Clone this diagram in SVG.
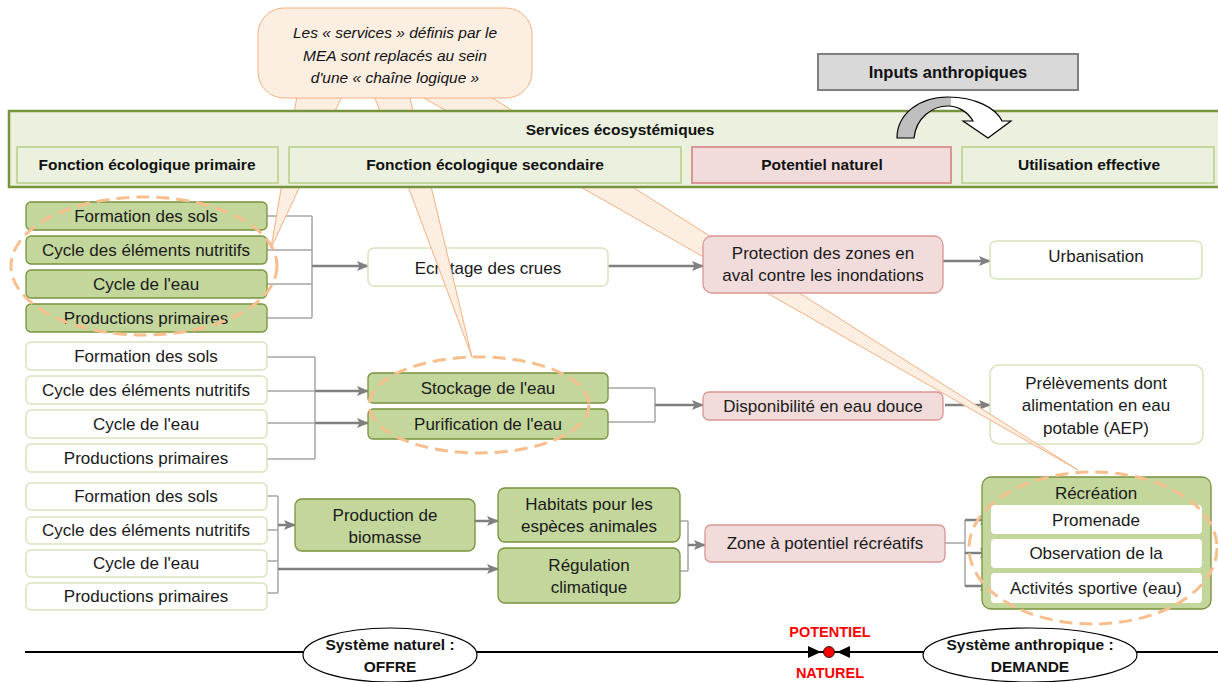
<svg xmlns="http://www.w3.org/2000/svg" width="1218" height="682" viewBox="0 0 1218 682">
<defs>
<style>
.t{font-family:"Liberation Sans",Arial,sans-serif;font-size:17px;fill:#1a1a1a;text-anchor:middle}
.b{font-family:"Liberation Sans",Arial,sans-serif;font-weight:bold;font-size:15.5px;fill:#111;text-anchor:middle}
.it{font-family:"Liberation Sans",Arial,sans-serif;font-style:italic;font-size:15.5px;fill:#111;text-anchor:middle}
.red{font-family:"Liberation Sans",Arial,sans-serif;font-weight:bold;font-size:14.5px;fill:#ff0000;text-anchor:middle}
.gb{fill:#c3d69b;stroke:#77933c;stroke-width:1.3}
.wb{fill:#ffffff;stroke:#d7e4bd;stroke-width:1.5}
.pb{fill:#f2dcdb;stroke:#d99694;stroke-width:1.3}
.hb{fill:#ebf1de;stroke:#c3d69b;stroke-width:2}
.thin{fill:none;stroke:#a6a6a6;stroke-width:1.5}
.arr{fill:none;stroke:#808080;stroke-width:2.5;marker-end:url(#ah)}
.dash{fill:none;stroke:#f8bf8e;stroke-width:3;stroke-dasharray:13 7}
.wedge{fill:#fdeee2;stroke:#f4b183;stroke-width:1}
</style>
<marker id="ah" markerUnits="userSpaceOnUse" markerWidth="12" markerHeight="10" refX="11" refY="5" orient="auto"><path d="M0,0 L12,5 L0,10 L2.5,5 Z" fill="#808080"/></marker>
<clipPath id="leftHalf"><rect x="880" y="90" width="71" height="60"/></clipPath>
</defs>
<rect width="1218" height="682" fill="#ffffff"/>

<g id="connectors">
<path class="thin" d="M267 216 H312 M267 250 H312 M267 284 H312 M267 318 H312 M312 216 V318"/>
<path class="arr" d="M312 266 H368"/>
<path class="arr" d="M608 266 H703"/>
<path class="arr" d="M943 261 H990"/>
<path class="thin" d="M267 357 H315 M267 391 H315 M267 423 H315 M267 459 H315 M315 357 V459"/>
<path class="arr" d="M315 391 H368"/>
<path class="arr" d="M315 423 H368"/>
<path class="thin" d="M608 388 H655 M608 422 H655 M655 388 V422"/>
<path class="arr" d="M655 405 H703"/>
<path class="arr" d="M945 405 H990"/>
<path class="thin" d="M267 496 H278 M267 530 H278 M267 561 H278 M267 593 H278 M278 496 V593"/>
<path class="arr" d="M278 525 H295"/>
<path class="arr" d="M278 569 H498"/>
<path class="arr" d="M475 521 H498"/>
<path class="thin" d="M680 521 H688 M680 571 H688 M688 521 V571"/>
<path class="arr" d="M688 545 H705"/>
<path class="thin" d="M945 543 H965 M965 520 V586"/>
<path class="arr" d="M965 520 H991"/>
<path class="arr" d="M965 553 H991"/>
<path class="arr" d="M965 586 H991"/>
</g>

<g id="fp1">
<rect class="gb" x="26" y="202" width="241" height="28" rx="5"/><text class="t" x="146" y="222">Formation des sols</text>
<rect class="gb" x="26" y="236" width="241" height="28" rx="5"/><text class="t" x="146" y="256">Cycle des éléments nutritifs</text>
<rect class="gb" x="26" y="270" width="241" height="28" rx="5"/><text class="t" x="146" y="290">Cycle de l'eau</text>
<rect class="gb" x="26" y="304" width="241" height="28" rx="5"/><text class="t" x="146" y="324">Productions primaires</text>
</g>
<g id="fp2">
<rect class="wb" x="26" y="342" width="241" height="28" rx="5"/><text class="t" x="146" y="362">Formation des sols</text>
<rect class="wb" x="26" y="376" width="241" height="28" rx="5"/><text class="t" x="146" y="396">Cycle des éléments nutritifs</text>
<rect class="wb" x="26" y="410" width="241" height="28" rx="5"/><text class="t" x="146" y="430">Cycle de l'eau</text>
<rect class="wb" x="26" y="444" width="241" height="28" rx="5"/><text class="t" x="146" y="464">Productions primaires</text>
</g>
<g id="fp3">
<rect class="wb" x="26" y="483" width="241" height="27" rx="5"/><text class="t" x="146" y="502">Formation des sols</text>
<rect class="wb" x="26" y="517" width="241" height="27" rx="5"/><text class="t" x="146" y="536">Cycle des éléments nutritifs</text>
<rect class="wb" x="26" y="550" width="241" height="27" rx="5"/><text class="t" x="146" y="569">Cycle de l'eau</text>
<rect class="wb" x="26" y="583" width="241" height="27" rx="5"/><text class="t" x="146" y="602">Productions primaires</text>
</g>

<g id="ecretage"><rect class="wb" x="368" y="248" width="240" height="38" rx="6"/><text class="t" x="488" y="274">Ecrêtage des crues</text></g>
<g id="stockage"><rect class="gb" x="368" y="373" width="240" height="30" rx="5"/><text class="t" x="488" y="394">Stockage de l'eau</text></g>
<g id="purification"><rect class="gb" x="368" y="409" width="240" height="30" rx="5"/><text class="t" x="488" y="430">Purification de l'eau</text></g>
<g id="biomasse"><rect class="gb" x="295" y="499" width="180" height="52" rx="7"/><text class="t" x="385" y="521">Production de</text><text class="t" x="385" y="543">biomasse</text></g>
<g id="habitats"><rect class="gb" x="498" y="488" width="182" height="54" rx="7"/><text class="t" x="589" y="510">Habitats pour les</text><text class="t" x="589" y="532">espèces animales</text></g>
<g id="regulation"><rect class="gb" x="498" y="548" width="182" height="55" rx="7"/><text class="t" x="589" y="571">Régulation</text><text class="t" x="589" y="593">climatique</text></g>
<g id="urbanisation"><rect class="wb" x="990" y="241" width="212" height="38" rx="6"/><text class="t" x="1096" y="262">Urbanisation</text></g>
<g id="prelevements"><rect class="wb" x="990" y="365" width="213" height="79" rx="9"/><text class="t" x="1096" y="389">Prélèvements dont</text><text class="t" x="1096" y="411">alimentation en eau</text><text class="t" x="1096" y="434">potable (AEP)</text></g>
<g id="zone"><rect class="pb" x="705" y="525" width="240" height="37" rx="6"/><text class="t" x="825" y="549">Zone à potentiel récréatifs</text></g>
<g id="recreation">
<rect class="gb" x="982" y="477" width="229" height="132" rx="9"/>
<text class="t" x="1096" y="499">Récréation</text>
<rect x="991" y="505" width="211" height="29" rx="4" fill="#fff"/><text class="t" x="1096" y="526">Promenade</text>
<rect x="991" y="539" width="211" height="29" rx="4" fill="#fff"/><text class="t" x="1096" y="559">Observation de la</text>
<rect x="991" y="573" width="211" height="30" rx="4" fill="#fff"/><text class="t" x="1096" y="594">Activités sportive (eau)</text>
</g>

<g id="callout">
<polygon class="wedge" points="298,90 345,90 271,248"/>
<polygon class="wedge" points="372,90 408,90 472,357"/>
<polygon class="wedge" points="410,90 480,90 1078,470"/>
<rect x="258" y="8" width="274" height="90" rx="26" fill="#fdeee2" stroke="#f4b183" stroke-width="1"/>
<text class="it" x="395" y="38">Les « services » définis par le</text>
<text class="it" x="395" y="61">MEA sont replacés au sein</text>
<text class="it" x="395" y="83">d'une « chaîne logique »</text>
</g>

<g id="header">
<rect x="9" y="111" width="1215" height="76" fill="#ebf1de" stroke="#77933c" stroke-width="2.5"/>
<text class="b" x="620" y="135">Services écosystémiques</text>
<rect class="hb" x="17" y="147" width="261" height="36"/><text class="b" x="147" y="170">Fonction écologique primaire</text>
<rect class="hb" x="289" y="147" width="392" height="36"/><text class="b" x="485" y="170">Fonction écologique secondaire</text>
<rect x="692" y="147" width="259" height="36" fill="#f2dcdb" stroke="#d99694" stroke-width="2"/><text class="b" x="822" y="170">Potentiel naturel</text>
<rect class="hb" x="962" y="147" width="252" height="36"/><text class="b" x="1089" y="170">Utilisation effective</text>
</g>

<g id="inputs">
<rect x="818" y="54" width="260" height="36" fill="#d9d9d9" stroke="#7f7f7f" stroke-width="2"/>
<text class="b" x="948" y="78" style="font-size:16.5px">Inputs anthropiques</text>
<path d="M897 138 C897 115 918 97 948 97 C975 97 996 108 1002 121 L1011 121 L988 138 L963 121 L973 121 C968 112 958 106 948 106 C932 106 916 118 914 138 Z" fill="#ffffff"/>
<path d="M897 138 C897 115 918 97 948 97 C975 97 996 108 1002 121 L1011 121 L988 138 L963 121 L973 121 C968 112 958 106 948 106 C932 106 916 118 914 138 Z" fill="#bfbfbf" clip-path="url(#leftHalf)"/>
<path d="M897 138 C897 115 918 97 948 97 C975 97 996 108 1002 121 L1011 121 L988 138 L963 121 L973 121 C968 112 958 106 948 106 C932 106 916 118 914 138 Z" fill="none" stroke="#000" stroke-width="1.2"/>
</g>

<g id="protection"><rect class="pb" x="703" y="236" width="240" height="57" rx="9"/><text class="t" x="823" y="259">Protection des zones en</text><text class="t" x="823" y="281">aval contre les inondations</text></g>
<g id="disponibilite"><rect class="pb" x="703" y="392" width="240" height="28" rx="6"/><text class="t" x="823" y="412">Disponibilité en eau douce</text></g>

<g id="highlights">
<ellipse class="dash" cx="144" cy="266" rx="133" ry="69"/>
<ellipse class="dash" cx="479" cy="405" rx="110" ry="48"/>
<ellipse class="dash" cx="1093" cy="548" rx="124" ry="76"/>
</g>

<g id="axis">
<line x1="25" y1="652" x2="1218" y2="652" stroke="#000" stroke-width="2"/>
<polygon points="808,646 821,652 808,658" fill="#000"/>
<polygon points="850,646 837,652 850,658" fill="#000"/>
<circle cx="829" cy="652" r="5.5" fill="#ff0000" stroke="#000" stroke-width="0.8"/>
<text class="red" x="830" y="637">POTENTIEL</text>
<text class="red" x="830" y="678">NATUREL</text>
</g>
<g id="offre">
<ellipse cx="390" cy="655" rx="87" ry="27" fill="#fff" stroke="#000" stroke-width="1.2"/>
<text class="b" x="390" y="650">Système naturel :</text>
<text class="b" x="390" y="672">OFFRE</text>
</g>
<g id="demande">
<ellipse cx="1030" cy="655" rx="107" ry="27" fill="#fff" stroke="#000" stroke-width="1.2"/>
<text class="b" x="1030" y="650">Système anthropique :</text>
<text class="b" x="1030" y="672">DEMANDE</text>
</g>
</svg>
